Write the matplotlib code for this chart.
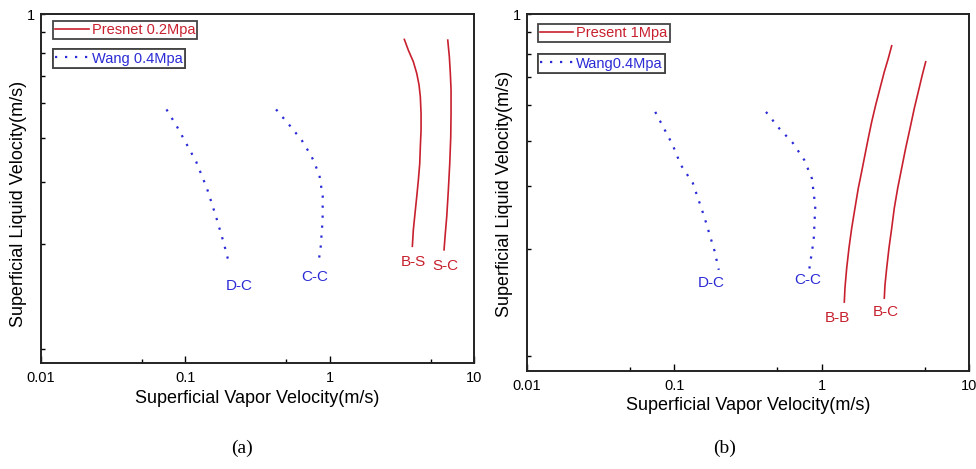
import numpy as np
import matplotlib.pyplot as plt
from matplotlib.lines import Line2D
from matplotlib.ticker import FixedLocator, FixedFormatter, NullFormatter

plt.rcParams['font.family'] = ['Liberation Sans', 'DejaVu Sans']

# ----------------------------
# Data (x: vapor velocity, y: liquid velocity, m/s)
# ----------------------------
# Wang 0.4 MPa boundaries, panel (a)
a_dc_x = [0.074, 0.087, 0.102, 0.119, 0.141, 0.163, 0.185, 0.202]
a_dc_y = [0.533, 0.478, 0.424, 0.377, 0.317, 0.263, 0.220, 0.191]
a_cc_x = [0.425, 0.525, 0.640, 0.751, 0.848, 0.895, 0.893, 0.867, 0.835]
a_cc_y = [0.533, 0.481, 0.435, 0.390, 0.346, 0.300, 0.257, 0.216, 0.193]

# Present 0.2 MPa
a_bs_x = [3.290, 3.506, 3.798, 4.010, 4.159, 4.246, 4.295, 4.295, 4.246,
          4.205, 4.113, 4.010, 3.902, 3.798, 3.738]
a_bs_y = [0.846, 0.788, 0.730, 0.676, 0.626, 0.579, 0.519, 0.465, 0.417,
          0.373, 0.334, 0.300, 0.269, 0.241, 0.216]
a_sc_x = [6.574, 6.744, 6.852, 6.930, 6.930, 6.897, 6.787, 6.637, 6.470,
          6.296, 6.197]
a_sc_y = [0.842, 0.755, 0.676, 0.606, 0.519, 0.445, 0.373, 0.313, 0.263,
          0.230, 0.211]

# Wang 0.4 MPa boundaries, panel (b)
b_dc_x = [0.0745, 0.0978, 0.111, 0.134, 0.160, 0.188, 0.201]
b_dc_y = [0.532, 0.430, 0.378, 0.336, 0.271, 0.217, 0.192]
b_cc_x = [0.420, 0.517, 0.637, 0.764, 0.861, 0.907, 0.885, 0.826]
b_cc_y = [0.532, 0.478, 0.436, 0.390, 0.346, 0.289, 0.233, 0.193]

# Present 1 MPa
b_bb_x = [2.991, 2.836, 2.665, 2.491, 2.329, 2.189, 2.075, 1.970, 1.872,
          1.775, 1.686, 1.601, 1.535, 1.481, 1.442, 1.427]
b_bb_y = [0.815, 0.751, 0.689, 0.619, 0.556, 0.499, 0.449, 0.403, 0.362,
          0.325, 0.286, 0.251, 0.221, 0.194, 0.171, 0.156]
b_bc_x = [5.087, 4.823, 4.532, 4.256, 3.981, 3.721, 3.496, 3.284, 3.115,
          2.991, 2.867, 2.766, 2.693, 2.665]
b_bc_y = [0.735, 0.675, 0.606, 0.544, 0.478, 0.421, 0.370, 0.325, 0.286,
          0.251, 0.221, 0.194, 0.174, 0.160]

x_major = [0.01, 0.1, 1, 10]
x_major_labels = ["0.01", "0.1", "1", "10"]
x_minor = [0.05, 0.5, 5]
y_minor = [0.11, 0.22, 0.33, 0.44, 0.555, 0.665, 0.775, 0.89]

red = "#c8202e"
blue = "#2b2bd6"
frame_color = "#444444"
dotted = (0, (1, 3.5))

fig = plt.figure(figsize=(9.76, 4.69), dpi=100)
ax_a = fig.add_axes([0.042, 0.226, 0.4437, 0.744])
ax_b = fig.add_axes([0.5396, 0.209, 0.4532, 0.761])


def style_axes(ax):
    ax.set_xscale("log")
    ax.set_yscale("log")
    ax.set_xlim(0.01, 10)
    ax.set_ylim(0.1, 1)
    ax.xaxis.set_major_locator(FixedLocator(x_major))
    ax.xaxis.set_major_formatter(FixedFormatter(x_major_labels))
    ax.xaxis.set_minor_locator(FixedLocator(x_minor))
    ax.xaxis.set_minor_formatter(NullFormatter())
    ax.yaxis.set_major_locator(FixedLocator([1]))
    ax.yaxis.set_major_formatter(FixedFormatter(["1"]))
    ax.yaxis.set_minor_locator(FixedLocator(y_minor))
    ax.yaxis.set_minor_formatter(NullFormatter())
    ax.tick_params(which="both", direction="in", labelsize=10.5, width=1.0)
    ax.tick_params(axis="x", which="major", length=5, pad=6)
    ax.tick_params(axis="x", which="minor", length=3)
    ax.tick_params(axis="y", which="both", length=3, pad=4)
    for s in ax.spines.values():
        s.set_linewidth(1.4)
        s.set_color("#222222")
    ax.set_xlabel("Superficial Vapor Velocity(m/s)", fontsize=13, labelpad=3)
    ax.set_ylabel("Superficial Liquid Velocity(m/s)", fontsize=13)


def add_legends(ax, label_red, label_blue, x0, y1, y2):
    h_red = Line2D([], [], color=red, lw=1.2)
    h_blue = Line2D([], [], color=blue, lw=1.6, linestyle=dotted)
    for h, lab, col, y in [(h_red, label_red, red, y1), (h_blue, label_blue, blue, y2)]:
        leg = ax.legend([h], [lab], loc="upper left", bbox_to_anchor=(x0, y),
                        borderaxespad=0, fontsize=10.5, handlelength=2.3,
                        handletextpad=0.2, borderpad=0.15, fancybox=False,
                        framealpha=1, edgecolor=frame_color, labelcolor=col)
        leg.get_frame().set_linewidth(1.3)
        ax.add_artist(leg)


# ----------------------------
# Panel (a)
# ----------------------------
style_axes(ax_a)
ax_a.yaxis.set_label_coords(-0.032, 0.457)
ax_a.plot(a_dc_x, a_dc_y, color=blue, lw=1.6, linestyle=dotted)
ax_a.plot(a_cc_x, a_cc_y, color=blue, lw=1.6, linestyle=dotted)
ax_a.plot(a_bs_x, a_bs_y, color=red, lw=1.2)
ax_a.plot(a_sc_x, a_sc_y, color=red, lw=1.2)
ax_a.text(0.237, 0.166, "D-C", color=blue, fontsize=11, ha="center", va="center")
ax_a.text(0.791, 0.176, "C-C", color=blue, fontsize=11, ha="center", va="center")
ax_a.text(3.80, 0.195, "B-S", color=red, fontsize=11, ha="center", va="center")
ax_a.text(6.30, 0.190, "S-C", color=red, fontsize=11, ha="center", va="center")
add_legends(ax_a, "Presnet 0.2Mpa", "Wang 0.4Mpa", 0.028, 0.981, 0.899)

# ----------------------------
# Panel (b)
# ----------------------------
style_axes(ax_b)
ax_b.yaxis.set_label_coords(-0.031, 0.497)
ax_b.plot(b_dc_x, b_dc_y, color=blue, lw=1.6, linestyle=dotted)
ax_b.plot(b_cc_x, b_cc_y, color=blue, lw=1.6, linestyle=dotted)
ax_b.plot(b_bb_x, b_bb_y, color=red, lw=1.2)
ax_b.plot(b_bc_x, b_bc_y, color=red, lw=1.2)
ax_b.text(0.179, 0.176, "D-C", color=blue, fontsize=11, ha="center", va="center")
ax_b.text(0.809, 0.180, "C-C", color=blue, fontsize=11, ha="center", va="center")
ax_b.text(1.29, 0.1405, "B-B", color=red, fontsize=11, ha="center", va="center")
ax_b.text(2.71, 0.1466, "B-C", color=red, fontsize=11, ha="center", va="center")
add_legends(ax_b, "Present 1Mpa", "Wang0.4Mpa", 0.025, 0.972, 0.887)

# Captions
fig.text(242 / 976, 1 - 448 / 469, "(a)", fontsize=14, family="Liberation Serif",
         ha="center", va="center")
fig.text(725 / 976, 1 - 448 / 469, "(b)", fontsize=14, family="Liberation Serif",
         ha="center", va="center")

plt.savefig("out.png", dpi=100)
